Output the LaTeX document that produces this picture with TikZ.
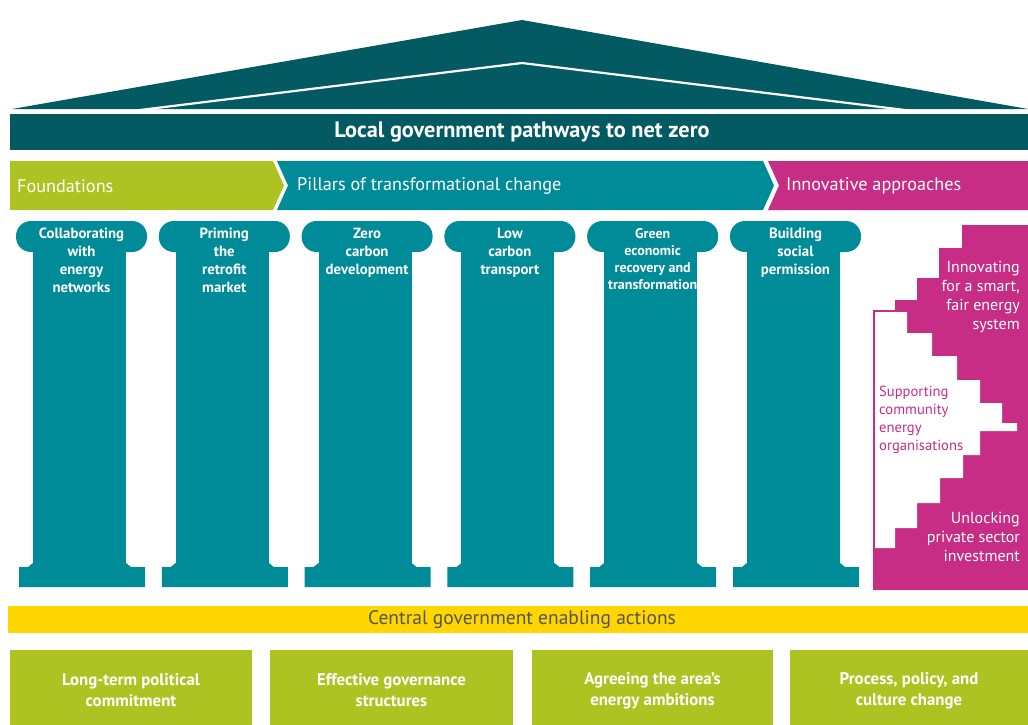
\documentclass[tikz,border=0pt]{standalone}
\usepackage{fontspec}
\setmainfont{PT Sans}

\definecolor{roofteal}{HTML}{045A62}
\definecolor{pillarteal}{HTML}{008B99}
\definecolor{leafgreen}{HTML}{ADC322}
\definecolor{berry}{HTML}{C72D84}
\definecolor{sunyellow}{HTML}{FFD600}
\definecolor{slate}{HTML}{555555}

\tikzset{
  coltext/.style={text=white, align=center, inner sep=0pt, anchor=north},
  bandtext/.style={text=white, inner sep=0pt, anchor=west,
    font=\fontsize{18.2}{21}\selectfont},
  stairtext/.style={text=white, inner sep=0pt, align=right, anchor=north east,
    font=\fontsize{16}{19}\selectfont},
  boxtext/.style={text=white, align=center, inner sep=0pt,
    font=\fontsize{16.8}{21}\selectfont\bfseries}
}

\begin{document}
\begin{tikzpicture}[x=1pt, y=-1pt]

\useasboundingbox (0,0) rectangle (1028,725);


\fill[roofteal] (12,109) -- (522,20) -- (1028,109) -- cycle;
\draw[white, line width=2.2pt] (132,111) -- (522,63) -- (913,111);

\fill[roofteal] (10,114) rectangle (1028,150);
\node[text=white, font=\fontsize{22.3}{24}\selectfont\bfseries] (title) at (522,132) {Local government pathways to net zero};



\fill[leafgreen] (10,161) -- (273,161) -- (284,185.5) -- (273,210) -- (10,210) -- cycle;
\fill[pillarteal] (277,161) -- (763,161) -- (774,185.5) -- (763,210) -- (277,210) -- (288,185.5) -- cycle;
\fill[berry] (768,161) -- (1028,161) -- (1028,210) -- (768,210) -- (779,185.5) -- cycle;

\node[bandtext] (found) at (17,186) {Foundations};
\node[bandtext] (pillars) at (297,186) {Pillars of transformational change};
\node[bandtext] (innov) at (786,186) {Innovative approaches};



\foreach \i/\fs/\bs/\txt in {0/14.8/18/{Collaborating\\with\\energy\\networks},
                             1/14.8/18/{Priming\\the\\retrofit\\market},
                             2/14.8/18/{Zero\\carbon\\development},
                             3/14.8/18/{Low\\carbon\\transport},
                             4/14/17/{Green\\economic\\recovery and\\transformation},
                             5/14.8/18/{Building\\social\\permission}}
{
	\pgfmathsetmacro\a{16+142.8*\i}
	
	\fill[pillarteal, rounded corners=15pt] (\a,221) rectangle (\a+131,252);
	\fill[pillarteal] (\a+17,240) rectangle (\a+110,566);
	\fill[pillarteal] (\a+3,587) -- (\a+3,567) -- (\a+12,567) -- (\a+17,563)
	    -- (\a+110,563) -- (\a+115,567) -- (\a+129,567) -- (\a+129,587) -- cycle;
	
	\node[coltext, font=\fontsize{\fs}{\bs}\selectfont\bfseries] (p\i) at (\a+65.5,228) {\txt};
}



\fill[berry] (873,590) -- (873,310) -- (895,310) -- (895,300) -- (917,300) -- (917,278)
    -- (939,278) -- (939,248) -- (962,248) -- (962,225) -- (1028,225) -- (1028,590) -- cycle;
\fill[white] (875,312) -- (907,312) -- (907,333) -- (932,333) -- (932,356) -- (957,356)
    -- (957,380) -- (980,380) -- (980,403) -- (1002,403) -- (1002,423) -- (1017,423)
    -- (1017,431) -- (980,431) -- (980,455) -- (963,455) -- (963,478) -- (940,478)
    -- (940,503) -- (917,503) -- (917,528) -- (895,528) -- (895,548) -- (875,548) -- cycle;

\node[stairtext] (smart) at (1020,261) {Innovating\\for a smart,\\fair energy\\system};
\node[text=berry, inner sep=0pt, align=left, anchor=north west,
      font=\fontsize{14.6}{18}\selectfont] (community) at (879,386) {Supporting\\community\\energy\\organisations};
\node[stairtext] (private) at (1020,512) {Unlocking\\private sector\\investment};



\fill[sunyellow] (8,606) rectangle (1028,633);
\node[text=slate, font=\fontsize{19.5}{22}\selectfont] (central) at (522,619.5) {Central government enabling actions};



\foreach \i/\l/\r/\txt in {1/10/252/{Long-term political\\commitment},
                           2/270/513/{Effective governance\\structures},
                           3/532/773/{Agreeing the area’s\\energy ambitions},
                           4/790/1028/{Process, policy, and\\culture change}}
{
	\fill[leafgreen] (\l,650) rectangle (\r,725);
	\node[boxtext] (b\i) at ({(\l+\r)/2},690.5) {\txt};
}

\end{tikzpicture}
\end{document}
